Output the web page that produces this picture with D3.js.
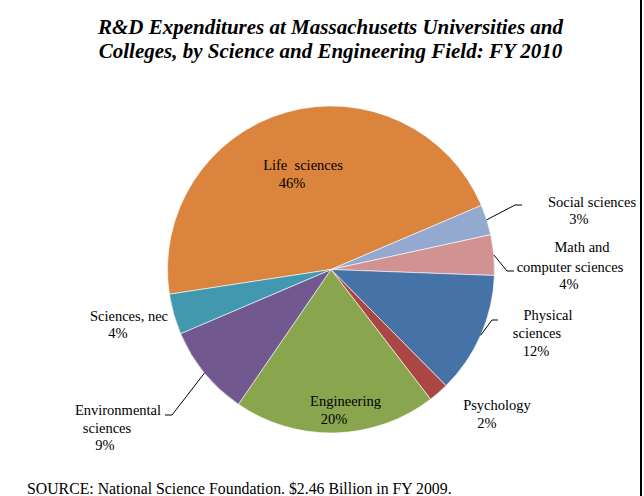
<!DOCTYPE html>
<html><head><meta charset="utf-8">
<script src="https://cdn.jsdelivr.net/npm/d3@7"></script>
<style>body{margin:0;background:#fff}svg{display:block}</style>
</head><body>
<script>
// ---- data ----
const categories = ["Life sciences","Social sciences","Math and computer sciences","Physical sciences","Psychology","Engineering","Environmental sciences","Sciences, nec"];
const shares = [46, 3, 4, 12, 2, 20, 9, 4];
const labelLines = [["Life  sciences"],["Social sciences"],["Math and","computer sciences"],["Physical","sciences"],["Psychology"],["Engineering"],["Environmental","sciences"],["Sciences, nec"]];
const titleLines = ["R&D Expenditures at Massachusetts Universities and","Colleges, by Science and Engineering Field: FY 2010"];
const sourceText = "SOURCE: National Science Foundation. $2.46 Billion in FY 2009.";

// ---- style / layout ----
const colors = ["#DB843D","#93A9CF","#D19392","#4572A7","#AA4643","#89A54E","#71588F","#4198AF"];
const layout = [
  {lines:[[303,165]], pct:[292,183]},
  {lines:[[592,202]], pct:[579,219], leader:[[515,205],[522,205]]},
  {lines:[[582,247],[570,267]], pct:[569,284], leader:[[507,271],[514,271]]},
  {lines:[[548,315],[537,333]], pct:[536,351], leader:[[492,320],[498,320]]},
  {lines:[[497,405]], pct:[487,423]},
  {lines:[[345.5,401]], pct:[334,419]},
  {lines:[[118,410],[107,428]], pct:[105,445], leader:[[172,415],[165,415]]},
  {lines:[[129,316]], pct:[118,333]}
];
const W = 644, H = 496, cx = 331, cy = 269.5, R = 163.5;
const serif = "'Liberation Serif','Times New Roman',serif";

const svg = d3.select("body").append("svg").attr("width", W).attr("height", H);

// title
svg.append("g").selectAll("text").data(titleLines).join("text")
  .attr("x", 330.5).attr("y", (d,i) => 27 + i*24).attr("dy","0.35em")
  .attr("text-anchor","middle")
  .style("font-family", serif).style("font-weight","bold").style("font-style","italic")
  .style("font-size","21px").attr("fill","#000").text(d => d);

const total = d3.sum(shares);
const start = -98.7 * Math.PI / 180;
const pie = d3.pie().sort(null).value(d => d).startAngle(start).endAngle(start + 2*Math.PI);
const arcs = pie(shares);
const arc = d3.arc().innerRadius(0).outerRadius(R);

const g = svg.append("g").attr("transform", `translate(${cx},${cy})`);
g.selectAll("path").data(arcs).join("path")
  .attr("d", arc).attr("fill", (d,i) => colors[i])
  .attr("stroke", "#fff").attr("stroke-width", 0.6);

// leaders and labels
const fmt = v => Math.round(v / total * 100) + "%";
arcs.forEach((a, i) => {
  const L = layout[i];
  if (L.leader) {
    const m = (a.startAngle + a.endAngle) / 2;
    const p0 = [cx + R*Math.sin(m), cy - R*Math.cos(m)];
    svg.append("polyline")
      .attr("points", [p0, ...L.leader].map(p => p.join(",")).join(" "))
      .attr("fill","none").attr("stroke","#000").attr("stroke-width",1);
  }
  const lg = svg.append("g").style("font-family", serif).style("font-size","14.5px").attr("fill","#000");
  labelLines[i].forEach((t, j) => {
    lg.append("text").attr("x", L.lines[j][0]).attr("y", L.lines[j][1]).attr("dy","0.35em")
      .attr("text-anchor","middle").style("white-space","pre").text(t);
  });
  lg.append("text").attr("x", L.pct[0]).attr("y", L.pct[1]).attr("dy","0.35em")
    .attr("text-anchor","middle").text(fmt(shares[i]));
});

// source
svg.append("text").attr("x", 27).attr("y", 488).attr("dy","0.35em")
  .style("font-family", serif).style("font-size","15.8px").attr("fill","#000").text(sourceText);

// right border
svg.append("rect").attr("x", 640).attr("y", 0).attr("width", 2).attr("height", H).attr("fill","#000");
</script>
</body></html>
